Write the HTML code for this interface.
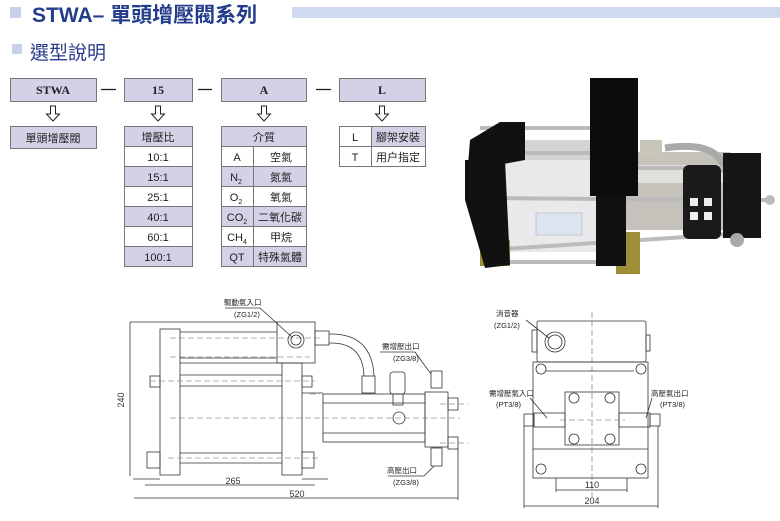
<!DOCTYPE html>
<html><head><meta charset="utf-8"><style>
html,body{margin:0;padding:0;background:#fff;}
svg{display:block;font-family:"Liberation Sans","Noto Sans CJK TC",sans-serif;}
</style></head><body>
<svg width="780" height="521" viewBox="0 0 780 521" xmlns="http://www.w3.org/2000/svg">
<rect x="10" y="7" width="11" height="11" fill="#c7d1ea"/>
<text x="32" y="22" font-size="21" font-weight="bold" fill="#233c8c">STWA– 單頭增壓閥系列</text>
<rect x="292" y="7" width="488" height="11" fill="#cfd9ef"/>
<rect x="12" y="44" width="10" height="10" fill="#c7d1ea"/>
<text x="30" y="59" font-size="19" fill="#2b3c8c">選型說明</text>

<g stroke="#777" stroke-width="1" font-size="11">
<rect x="10.5" y="78.5" width="86" height="23" fill="#d6d0e7"/>
<rect x="124.5" y="78.5" width="68" height="23" fill="#d6d0e7"/>
<rect x="221.5" y="78.5" width="85" height="23" fill="#d6d0e7"/>
<rect x="339.5" y="78.5" width="86" height="23" fill="#d6d0e7"/>
</g>
<g font-family="Liberation Serif,serif" font-weight="bold" font-size="12" text-anchor="middle" fill="#222">
<text x="53" y="94">STWA</text><text x="158" y="94">15</text><text x="264" y="94">A</text><text x="382" y="94">L</text>
</g>
<g stroke="#222" stroke-width="1.3">
<line x1="101" y1="89.5" x2="116" y2="89.5"/><line x1="198" y1="89.5" x2="212" y2="89.5"/><line x1="316" y1="89.5" x2="331" y2="89.5"/>
</g>
<g fill="#fff" stroke="#222" stroke-width="1">
<path d="M50.5 106v8h-4l6.5 7 6.5-7h-4v-8z"/>
<path d="M155.5 106v8h-4l6.5 7 6.5-7h-4v-8z"/>
<path d="M261.5 106v8h-4l6.5 7 6.5-7h-4v-8z"/>
<path d="M379.5 106v8h-4l6.5 7 6.5-7h-4v-8z"/>
</g>
<g stroke="#777" stroke-width="1">
<rect x="10.5" y="126.5" width="86" height="22" fill="#d6d0e7"/>
<rect x="124.5" y="126.5" width="68" height="20" fill="#d6d0e7"/>
<rect x="124.5" y="146.5" width="68" height="20" fill="#fff"/>
<rect x="124.5" y="166.5" width="68" height="20" fill="#d6d0e7"/>
<rect x="124.5" y="186.5" width="68" height="20" fill="#fff"/>
<rect x="124.5" y="206.5" width="68" height="20" fill="#d6d0e7"/>
<rect x="124.5" y="226.5" width="68" height="20" fill="#fff"/>
<rect x="124.5" y="246.5" width="68" height="20" fill="#d6d0e7"/>
<rect x="221.5" y="126.5" width="85" height="20" fill="#d6d0e7"/>
<rect x="221.5" y="146.5" width="85" height="20" fill="#fff"/>
<rect x="221.5" y="166.5" width="85" height="20" fill="#d6d0e7"/>
<rect x="221.5" y="186.5" width="85" height="20" fill="#fff"/>
<rect x="221.5" y="206.5" width="85" height="20" fill="#d6d0e7"/>
<rect x="221.5" y="226.5" width="85" height="20" fill="#fff"/>
<rect x="221.5" y="246.5" width="85" height="20" fill="#d6d0e7"/>
<line x1="253.5" y1="146.5" x2="253.5" y2="266.5"/>
<rect x="339.5" y="126.5" width="86" height="20" fill="#fff"/>
<rect x="371.5" y="126.5" width="54" height="20" fill="#d6d0e7"/>
<rect x="339.5" y="146.5" width="86" height="20" fill="#fff"/>
<line x1="371.5" y1="146.5" x2="371.5" y2="166.5"/>
</g>
<g font-size="11" fill="#222" text-anchor="middle">
<text x="53" y="142">單頭增壓閥</text>
<text x="158" y="141">增壓比</text>
<text x="158" y="161">10:1</text><text x="158" y="181">15:1</text><text x="158" y="201">25:1</text>
<text x="158" y="221">40:1</text><text x="158" y="241">60:1</text><text x="158" y="261">100:1</text>
<text x="264" y="141">介質</text>
<text x="237" y="161">A</text><text x="236" y="181">N<tspan font-size="7" dy="3">2</tspan></text>
<text x="236" y="201">O<tspan font-size="7" dy="3">2</tspan></text>
<text x="237" y="221">CO<tspan font-size="7" dy="3">2</tspan></text>
<text x="237" y="241">CH<tspan font-size="7" dy="3">4</tspan></text>
<text x="237" y="261">QT</text>
<text x="281" y="161">空氣</text><text x="281" y="181">氮氣</text><text x="281" y="201">氧氣</text>
<text x="280" y="221">二氧化碳</text><text x="281" y="241">甲烷</text><text x="280" y="261">特殊氣體</text>
<text x="355" y="141">L</text><text x="398" y="141">腳架安裝</text>
<text x="355" y="161">T</text><text x="398" y="161">用户指定</text>
</g>

<!-- photo -->
<g>
<path d="M500 140 L600 140 L600 252 L500 252 Z" fill="#e9e9eb"/>
<rect x="500" y="140" width="100" height="20" fill="#d4d4d6"/>
<rect x="600" y="152" width="130" height="78" fill="#c4c2ba"/>
<rect x="600" y="165" width="130" height="18" fill="#e0dfda"/>
<path d="M665 148 Q720 140 725 172" stroke="#aaa" stroke-width="7" fill="none"/>
<rect x="640" y="140" width="22" height="18" fill="#c8c6b8"/>
<g stroke="#bbb" stroke-width="4">
<line x1="480" y1="128" x2="600" y2="128"/><line x1="490" y1="153" x2="600" y2="153"/>
<line x1="470" y1="198" x2="770" y2="200"/><line x1="490" y1="250" x2="760" y2="232"/>
<line x1="500" y1="262" x2="610" y2="262"/><line x1="630" y1="168" x2="730" y2="168"/>
</g>
<rect x="480" y="240" width="30" height="26" fill="#9e8e36"/>
<rect x="616" y="232" width="24" height="42" fill="#9e8e36"/>
<path d="M470 140 L500 122 L525 122 L525 160 L498 165 L468 165 Z" fill="#111"/>
<path d="M465 160 L505 160 L510 265 L485 268 L465 200 Z" fill="#111"/>
<rect x="590" y="78" width="48" height="118" fill="#0c0c0c"/>
<rect x="596" y="196" width="30" height="70" fill="#111"/>
<rect x="723" y="153" width="38" height="85" fill="#151515"/>
<rect x="683" y="165" width="38" height="74" rx="6" fill="#1a1a1a"/>
<g fill="#eee"><rect x="690" y="198" width="8" height="8"/><rect x="704" y="198" width="8" height="8"/><rect x="690" y="212" width="8" height="8"/><rect x="704" y="212" width="8" height="8"/></g>
<rect x="536" y="213" width="46" height="22" fill="#dde3ef" stroke="#aab" stroke-width=".5"/>
<circle cx="737" cy="240" r="7" fill="#aaa"/>
<circle cx="770" cy="200" r="5" fill="#bbb"/>
</g>

<!-- side view -->
<g stroke="#333" stroke-width="0.8" fill="none">
<line x1="130" y1="322" x2="130" y2="476"/>
<line x1="130" y1="322" x2="277" y2="322"/>
<rect x="160" y="329" width="20" height="146"/>
<rect x="282" y="363" width="20" height="112"/>
<rect x="277" y="322" width="38" height="41"/>
<line x1="180" y1="332" x2="277" y2="332"/><line x1="180" y1="358" x2="277" y2="358"/>
<line x1="180" y1="363" x2="282" y2="363"/>
<line x1="180" y1="375" x2="282" y2="375"/><line x1="180" y1="386" x2="282" y2="386"/>
<line x1="180" y1="453" x2="282" y2="453"/><line x1="180" y1="463" x2="282" y2="463"/>
<circle cx="296" cy="340" r="8"/><circle cx="296" cy="340" r="5"/>
<rect x="150" y="376" width="10" height="11"/><rect x="302" y="376" width="10" height="11"/>
<rect x="147" y="452" width="13" height="16"/><rect x="302" y="452" width="12" height="16"/>
<polyline points="133,479 160,479"/><polyline points="302,479 328,479"/>
<line x1="302" y1="393" x2="323" y2="393"/>
<rect x="323" y="394" width="102" height="48"/>
<line x1="323" y1="403" x2="425" y2="403"/><line x1="323" y1="433" x2="425" y2="433"/>
<rect x="425" y="392" width="23" height="55"/>
<rect x="448" y="398" width="10" height="12"/><rect x="448" y="437" width="10" height="12"/>
<rect x="431" y="371" width="11" height="17"/><rect x="431" y="448" width="11" height="18"/>
<rect x="390" y="372" width="15" height="22" rx="3"/><rect x="393" y="394" width="10" height="11"/>
<circle cx="399" cy="418" r="6"/>
<rect x="315" y="331" width="14" height="14"/>
<path d="M329 334 Q372 333 374 376"/><path d="M329 343 Q363 342 364 376"/>
<rect x="362" y="376" width="13" height="17"/>
<line x1="134" y1="498" x2="458" y2="498"/><line x1="145" y1="485" x2="315" y2="485"/>
<line x1="458" y1="449" x2="458" y2="500"/>
<line x1="225" y1="308" x2="260" y2="308"/><line x1="260" y1="308" x2="292" y2="337"/>
<line x1="380" y1="352" x2="415" y2="352"/><line x1="415" y1="352" x2="431" y2="374"/>
<line x1="388" y1="476" x2="424" y2="476"/><line x1="424" y1="476" x2="434" y2="466"/>
</g>
<g stroke="#666" stroke-width="0.6" stroke-dasharray="6,3" fill="none">
<line x1="170" y1="338" x2="320" y2="338"/><line x1="170" y1="357" x2="310" y2="357"/>
<line x1="150" y1="381" x2="315" y2="381"/><line x1="170" y1="418" x2="460" y2="418"/>
<line x1="168" y1="458" x2="318" y2="458"/><line x1="310" y1="394" x2="320" y2="394"/><line x1="440" y1="404" x2="468" y2="404"/><line x1="440" y1="443" x2="468" y2="443"/>
</g>
<g font-size="9" fill="#333" text-anchor="middle">
<text x="124" y="400" transform="rotate(-90 124 400)">240</text>
<text x="233" y="484">265</text><text x="297" y="497">520</text>
</g>
<g font-size="7.5" fill="#222">
<text x="224" y="305">驅動氣入口</text><text x="234" y="317">(ZG1/2)</text>
<text x="382" y="349">需增壓出口</text><text x="393" y="361">(ZG3/8)</text>
<text x="387" y="473">高壓出口</text><text x="393" y="485">(ZG3/8)</text>
<text x="496" y="316">消音器</text><text x="494" y="328">(ZG1/2)</text>
<text x="489" y="396">需增壓氣入口</text><text x="496" y="407">(PT3/8)</text>
<text x="651" y="396">高壓氣出口</text><text x="660" y="407">(PT3/8)</text>
</g>

<!-- front view -->
<g stroke="#333" stroke-width="0.8" fill="none">
<rect x="537" y="321" width="109" height="41" rx="2"/>
<rect x="532" y="330" width="5" height="22"/><rect x="646" y="335" width="4" height="16"/>
<circle cx="555" cy="342" r="10"/><circle cx="555" cy="342" r="7"/>
<rect x="533" y="362" width="115" height="116"/>
<line x1="545" y1="371" x2="634" y2="371"/><line x1="533" y1="449" x2="648" y2="449"/>
<rect x="565" y="392" width="54" height="53"/>
<circle cx="541" cy="369" r="5"/><circle cx="641" cy="369" r="5"/>
<circle cx="541" cy="469" r="5"/><circle cx="641" cy="469" r="5"/>
<circle cx="574" cy="398" r="5"/><circle cx="610" cy="398" r="5"/>
<circle cx="574" cy="439" r="5"/><circle cx="610" cy="439" r="5"/>
<rect x="524" y="414" width="10" height="12"/><rect x="534" y="413" width="31" height="14"/>
<rect x="619" y="413" width="31" height="14"/><rect x="650" y="414" width="10" height="12"/>
<line x1="556" y1="478" x2="556" y2="492"/><line x1="627" y1="478" x2="627" y2="492"/>
<line x1="556" y1="490" x2="627" y2="490"/>
<line x1="524" y1="426" x2="524" y2="508"/><line x1="658" y1="426" x2="658" y2="508"/>
<line x1="524" y1="506" x2="658" y2="506"/>
<line x1="526" y1="320" x2="549" y2="338"/>
<line x1="530" y1="398" x2="547" y2="418"/><line x1="652" y1="398" x2="646" y2="418"/>
</g>
<g stroke="#666" stroke-width="0.6" stroke-dasharray="6,3">
<line x1="592" y1="312" x2="592" y2="500"/><line x1="560" y1="420" x2="625" y2="420"/>
</g>
<g font-size="9" fill="#333" text-anchor="middle">
<text x="592" y="488">110</text><text x="592" y="504">204</text>
</g>
</svg>
</body></html>
